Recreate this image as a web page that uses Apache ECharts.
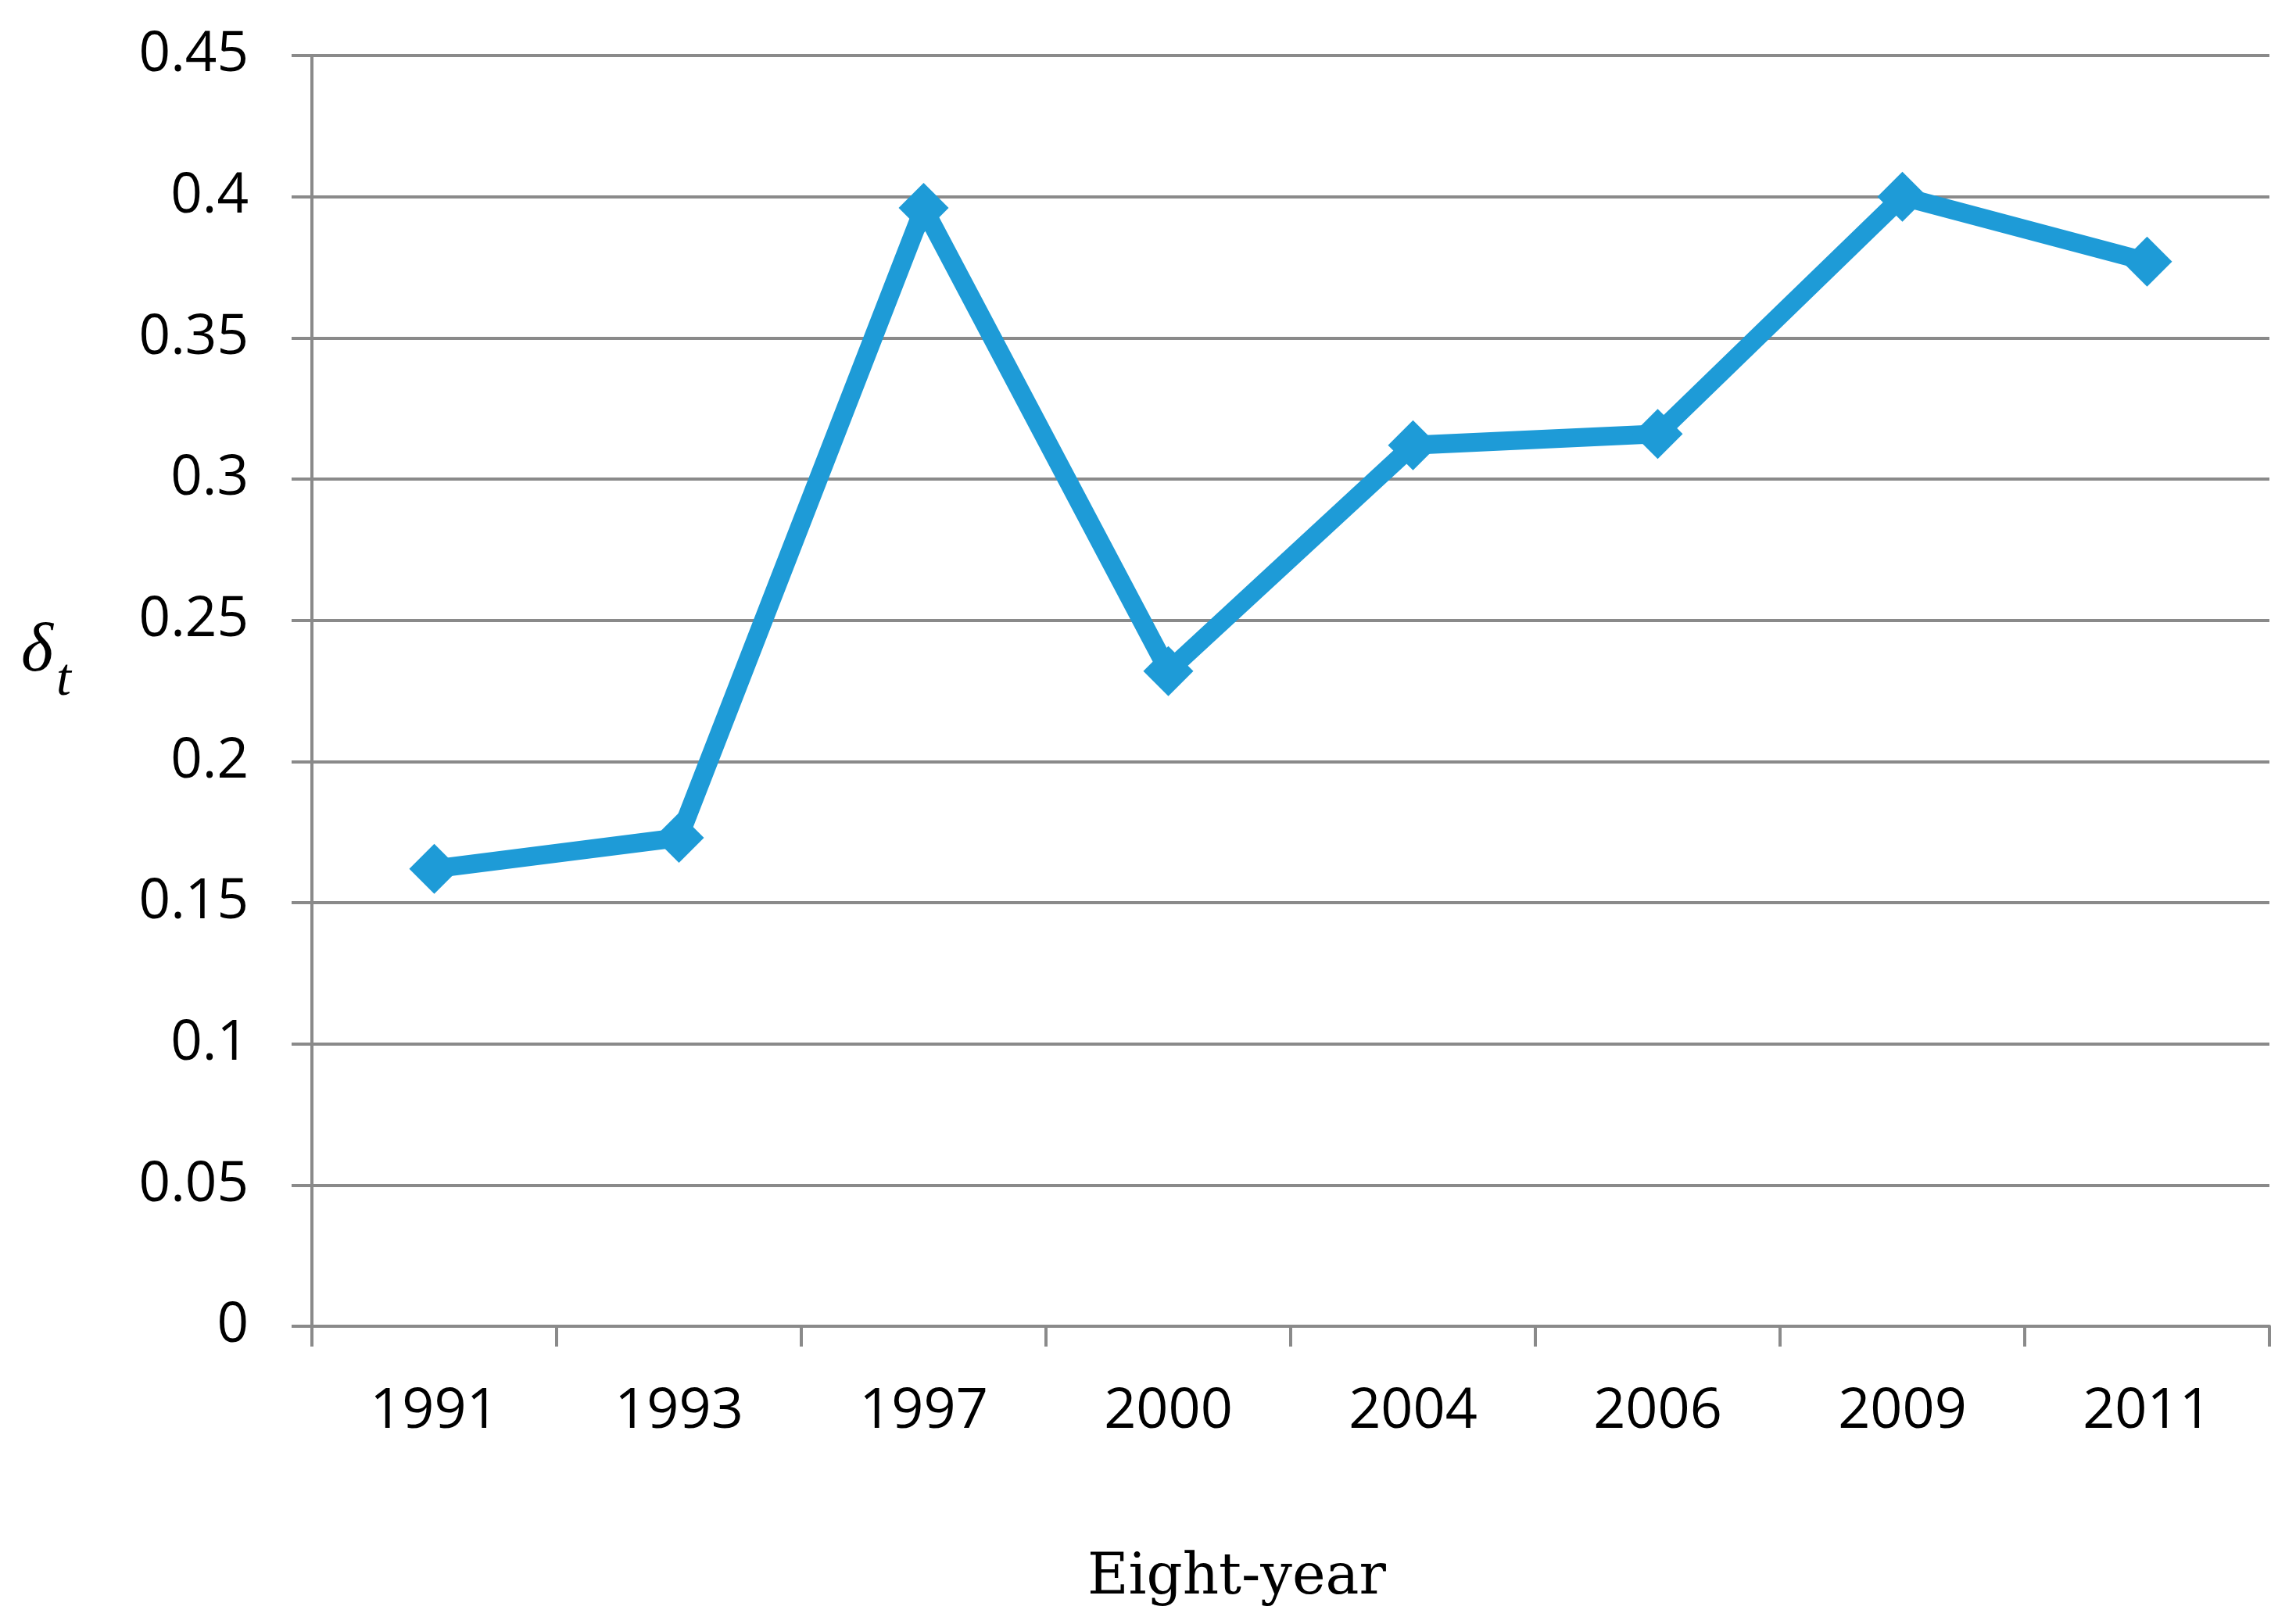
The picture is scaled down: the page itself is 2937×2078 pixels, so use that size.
<!DOCTYPE html>
<html>
<head>
<meta charset="utf-8">
<script src="https://cdn.jsdelivr.net/npm/echarts@6/dist/echarts.min.js"></script>
<style>
html,body{margin:0;padding:0;background:#fff;}
#chart{width:2937px;height:2078px;}
</style>
</head>
<body>
<div id="chart"></div>
<script>
const categories = ['1991','1993','1997','2000','2004','2006','2009','2011'];
const deltaValues = [0.162, 0.173, 0.396, 0.232, 0.312, 0.316, 0.400, 0.377];
const yTicks = [0, 0.05, 0.1, 0.15, 0.2, 0.25, 0.3, 0.35, 0.4, 0.45];

const gridColor = '#8a8a8a';
const chart = echarts.init(document.getElementById('chart'), null, {renderer: 'canvas'});
chart.setOption({
  backgroundColor: '#ffffff',
  animation: false,
  title: [
    {
      text: '{d|δ}{t|t}',
      left: 22, top: 786,
      textStyle: {
        fontWeight: 'normal',
        rich: {
          d: {fontFamily: 'Liberation Serif', fontStyle: 'italic', fontWeight: 'normal', fontSize: 88, color: '#000', verticalAlign: 'bottom'},
          t: {fontFamily: 'Liberation Serif', fontStyle: 'italic', fontWeight: 'normal', fontSize: 68, color: '#000', verticalAlign: 'bottom', padding: [0,0,-26,4]}
        }
      }
    },
    {
      text: 'Eight-year',
      left: 1386, top: 1979,
      textStyle: {fontFamily: 'DejaVu Serif', fontWeight: 'normal', fontSize: 72, color: '#000'}
    }
  ],
  grid: {left: 399, right: 34, top: 71, bottom: 381, containLabel: false},
  xAxis: {
    type: 'category',
    data: categories,
    boundaryGap: true,
    axisLine: {show: true, lineStyle: {color: gridColor, width: 4}},
    axisTick: {show: true, alignWithLabel: false, length: 26, lineStyle: {color: gridColor, width: 4}},
    axisLabel: {color: '#000', fontFamily: 'Open Sans', fontSize: 72, margin: 73},
    splitLine: {show: false}
  },
  yAxis: {
    type: 'value',
    min: 0, max: 0.45, interval: 0.05,
    axisLine: {show: true, lineStyle: {color: gridColor, width: 4}},
    axisTick: {show: true, length: 26, lineStyle: {color: gridColor, width: 4}},
    axisLabel: {
      color: '#000', fontFamily: 'Open Sans', fontSize: 71, margin: 81,
      formatter: function (v) {
        const s = yTicks.find(t => Math.abs(t - v) < 1e-9);
        return String(+((s !== undefined ? s : v).toFixed(2)));
      }
    },
    splitLine: {show: true, lineStyle: {color: gridColor, width: 4}}
  },
  series: [{
    type: 'line',
    data: deltaValues,
    symbol: 'diamond',
    symbolSize: 64,
    showSymbol: true,
    lineStyle: {color: '#1E9BD7', width: 24, join: 'miter'},
    itemStyle: {color: '#1E9BD7'},
    z: 5
  }]
});
</script>
</body>
</html>
